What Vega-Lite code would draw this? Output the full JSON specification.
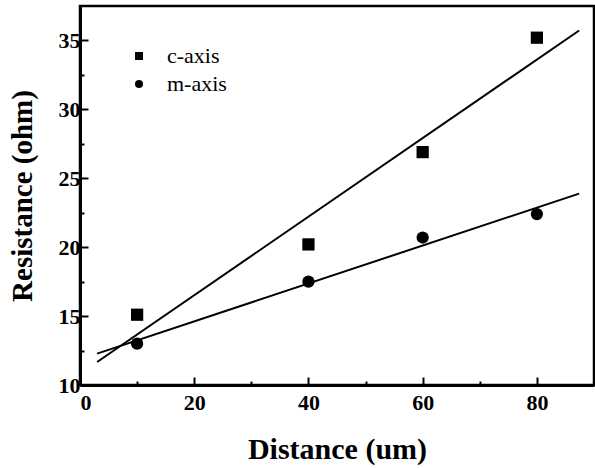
{
  "$schema": "https://vega.github.io/schema/vega-lite/v6.json",
  "width": 514,
  "height": 379,
  "autosize": {"type": "none"},
  "padding": {"left": 80, "top": 6, "right": 1, "bottom": 83},
  "background": "white",
  "config": {
    "view": {"stroke": "black", "strokeWidth": 2.5},
    "font": "Liberation Serif",
    "axis": {
      "grid": false,
      "domainColor": "black",
      "domainWidth": 3,
      "tickColor": "black",
      "tickWidth": 2,
      "labelColor": "black",
      "titleColor": "black"
    },
    "style": {
      "guide-label": {"font": "Liberation Serif", "fontWeight": "bold", "fontSize": 22}
    }
  },
  "data": {
    "values": [
      {"distance": 10, "resistance": 15.1, "series": "c-axis"},
      {"distance": 40, "resistance": 20.2, "series": "c-axis"},
      {"distance": 60, "resistance": 26.9, "series": "c-axis"},
      {"distance": 80, "resistance": 35.2, "series": "c-axis"},
      {"distance": 10, "resistance": 13.0, "series": "m-axis"},
      {"distance": 40, "resistance": 17.5, "series": "m-axis"},
      {"distance": 60, "resistance": 20.7, "series": "m-axis"},
      {"distance": 80, "resistance": 22.4, "series": "m-axis"}
    ]
  },
  "resolve": {"axis": {"x": "independent", "y": "independent"}},
  "layer": [
    {
      "transform": [
        {"regression": "resistance", "on": "distance", "groupby": ["series"], "extent": [3, 87.4]}
      ],
      "mark": {"type": "line", "color": "black", "strokeWidth": 2, "clip": true},
      "encoding": {
        "x": {
          "field": "distance",
          "type": "quantitative",
          "scale": {"domain": [0, 90], "nice": false, "zero": false},
          "axis": {
            "orient": "bottom",
            "values": [10, 30, 50, 70],
            "labels": false,
            "domain": false,
            "tickSize": -4,
            "title": null
          }
        },
        "y": {
          "field": "resistance",
          "type": "quantitative",
          "scale": {"domain": [10, 37.5], "nice": false, "zero": false},
          "axis": {
            "orient": "left",
            "values": [12.5, 17.5, 22.5, 27.5, 32.5],
            "labels": false,
            "domain": false,
            "tickSize": -4,
            "title": null
          }
        },
        "detail": {"field": "series"}
      }
    },
    {
      "mark": {"type": "point", "filled": true, "opacity": 1, "size": 150},
      "encoding": {
        "x": {
          "field": "distance",
          "type": "quantitative",
          "scale": {"domain": [0, 90], "nice": false, "zero": false},
          "title": "Distance (um)",
          "axis": {
            "orient": "bottom",
            "values": [0, 20, 40, 60, 80],
            "tickSize": -8,
            "labelFont": "Liberation Serif",
            "labelFontWeight": "bold",
            "labelFontSize": 22,
            "labelPadding": 15,
            "titleFont": "Liberation Serif",
            "titleFontWeight": "bold",
            "titleFontSize": 30,
            "titlePadding": 21
          }
        },
        "y": {
          "field": "resistance",
          "type": "quantitative",
          "scale": {"domain": [10, 37.5], "nice": false, "zero": false},
          "title": "Resistance (ohm)",
          "axis": {
            "orient": "left",
            "values": [10, 15, 20, 25, 30, 35],
            "tickSize": -8,
            "labelFont": "Liberation Serif",
            "labelFontWeight": "bold",
            "labelFontSize": 22,
            "labelPadding": 8,
            "titleFont": "Liberation Serif",
            "titleFontWeight": "bold",
            "titleFontSize": 29,
            "titlePadding": 21
          }
        },
        "shape": {
          "field": "series",
          "type": "nominal",
          "scale": {"domain": ["c-axis", "m-axis"], "range": ["square", "circle"]},
          "legend": {
            "title": null,
            "orient": "none",
            "legendX": 48,
            "legendY": 39,
            "symbolSize": 64,
            "symbolFillColor": "black",
            "symbolStrokeColor": "black",
            "labelFont": "Liberation Serif",
            "labelFontWeight": "normal",
            "labelFontSize": 22,
            "labelColor": "black",
            "labelOffset": 17,
            "rowPadding": 6,
            "padding": 0
          }
        },
        "color": {"value": "black"}
      }
    }
  ]
}
